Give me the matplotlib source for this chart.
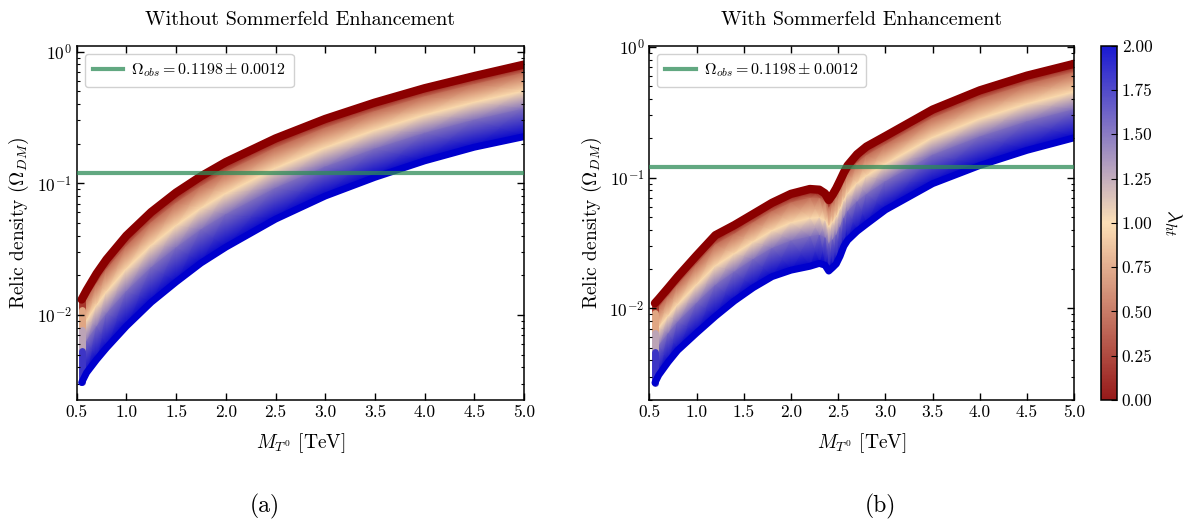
import numpy as np
import matplotlib
matplotlib.use('Agg')
import matplotlib.pyplot as plt
import matplotlib.cm as cm
from matplotlib.colors import LinearSegmentedColormap, Normalize
from matplotlib.collections import LineCollection
from matplotlib.ticker import LogLocator, NullFormatter, MultipleLocator, FormatStrFormatter

plt.rcParams.update({
    'font.family': 'cmr10',
    'mathtext.fontset': 'cm',
    'axes.formatter.use_mathtext': True,
    'axes.unicode_minus': False,
})

# ---------------- data ----------------
lam_levels = [0.0, 0.5, 1.0, 1.5, 2.0]
omega_obs = 0.1198

# (a) without Sommerfeld enhancement
mass_a = [0.55, 0.6, 0.7, 0.8, 1.0, 1.25, 1.5, 1.75, 2.0, 2.5, 3.0, 3.5, 4.0, 4.5, 5.0]
a_l00 = [0.0131, 0.0154, 0.0206, 0.0264, 0.0400, 0.0605, 0.0850, 0.113, 0.145, 0.219, 0.308, 0.410, 0.527, 0.652, 0.797]
a_l05 = [0.0110, 0.0130, 0.0172, 0.0220, 0.0331, 0.0501, 0.0704, 0.0942, 0.1212, 0.1848, 0.2620, 0.3505, 0.4525, 0.5610, 0.686]
a_l10 = [0.00766, 0.00905, 0.01181, 0.01492, 0.02228, 0.03376, 0.04762, 0.0645, 0.08356, 0.1299, 0.1860, 0.2525, 0.3290, 0.4110, 0.5010]
a_l15 = [0.00532, 0.00631, 0.00811, 0.01014, 0.0150, 0.02277, 0.03221, 0.04416, 0.05761, 0.09134, 0.1325, 0.1815, 0.2390, 0.3010, 0.3660]
a_l20 = [0.00307, 0.00365, 0.00458, 0.00563, 0.00822, 0.0125, 0.0178, 0.0248, 0.0327, 0.0534, 0.0800, 0.1110, 0.1480, 0.1880, 0.226]

# (b) with Sommerfeld enhancement
mass_b = [0.56, 0.6, 0.7, 0.8, 1.0, 1.2, 1.4, 1.6, 1.8, 2.0, 2.2, 2.3, 2.36, 2.40, 2.44, 2.48, 2.52,
          2.56, 2.6, 2.7, 2.8, 3.0, 3.5, 4.0, 4.5, 5.0]
b_l00 = [0.01095, 0.01179, 0.01433, 0.01748, 0.02535, 0.0363, 0.0433, 0.0527, 0.0642, 0.0752, 0.0819, 0.0809,
         0.0758, 0.0675, 0.0740, 0.0830, 0.0951, 0.1095, 0.124, 0.151, 0.173, 0.208, 0.332, 0.466, 0.604, 0.744]
b_l05 = [0.00926, 0.01004, 0.01225, 0.01496, 0.02153, 0.03058, 0.03688, 0.0451, 0.0549, 0.0640, 0.0696, 0.0692,
         0.0651, 0.0581, 0.0634, 0.0708, 0.0810, 0.0937, 0.1058, 0.1283, 0.1469, 0.1780, 0.2840, 0.3975, 0.5160, 0.6363]
b_l10 = [0.00643, 0.00709, 0.00873, 0.01067, 0.0151, 0.0211, 0.0261, 0.0322, 0.0392, 0.0451, 0.0488, 0.0494,
         0.0469, 0.0419, 0.0454, 0.0500, 0.0573, 0.0668, 0.0751, 0.0902, 0.1030, 0.1269, 0.2025, 0.2815, 0.3660, 0.4532]
b_l15 = [0.00460, 0.00514, 0.00639, 0.00781, 0.01088, 0.01497, 0.01892, 0.02358, 0.02868, 0.03267, 0.03523, 0.03619,
         0.03460, 0.03106, 0.03338, 0.03634, 0.04164, 0.04896, 0.05477, 0.06513, 0.07424, 0.09292, 0.1480, 0.2045, 0.2670, 0.3316]
b_l20 = [0.0027, 0.00309, 0.00389, 0.00477, 0.00648, 0.0087, 0.0114, 0.0144, 0.0175, 0.0196, 0.0210, 0.0221,
         0.0214, 0.0193, 0.0205, 0.0219, 0.0251, 0.0299, 0.0332, 0.0389, 0.0442, 0.0567, 0.0900, 0.1240, 0.162, 0.202]

cbar_ticks = [0.00, 0.25, 0.50, 0.75, 1.00, 1.25, 1.50, 1.75, 2.00]

# ---------------- figure ----------------
W, H = 1194, 519
fig = plt.figure(figsize=(W / 100, H / 100), dpi=100)

cmap = LinearSegmentedColormap.from_list('lam', ['#8b0000', '#fcdcae', '#0000cd'])
norm = Normalize(0, 2)


def px_axes(x0, y0, x1, y1):
    return fig.add_axes([x0 / W, 1 - y1 / H, (x1 - x0) / W, (y1 - y0) / H])


def draw(ax, mass, curves, ylim, title):
    lam = np.array(lam_levels)
    mass = np.array(mass)
    Y = np.array(curves)
    X = np.tile(mass, (len(lam), 1))
    C = np.repeat(lam[:, None], len(mass), axis=1)
    ax.set_yscale('log')
    ax.pcolormesh(X, Y, C, shading='gouraud', cmap=cmap, norm=norm, zorder=1)
    lw = 6
    ax.plot(mass, Y[0], color=cmap(norm(lam[0])), lw=lw, solid_capstyle='round',
            solid_joinstyle='round', zorder=2)
    ax.plot(mass, Y[-1], color=cmap(norm(lam[-1])), lw=lw - 1, solid_capstyle='round',
            solid_joinstyle='round', zorder=2)
    segs = [[(mass[0], Y[i, 0]), (mass[0], Y[i + 1, 0])] for i in range(len(lam) - 1)]
    cols = [cmap(norm(0.5 * (lam[i] + lam[i + 1]))) for i in range(len(lam) - 1)]
    ax.add_collection(LineCollection(segs, colors=cols, linewidths=lw - 1, capstyle='round', zorder=1.5))
    ax.axhline(omega_obs, color='seagreen', lw=3, alpha=0.75, zorder=3,
               label=r'$\Omega_{obs} = 0.1198 \pm 0.0012$')
    ax.set_xlim(0.5, 5.0)
    ax.set_ylim(*ylim)
    ax.xaxis.set_major_locator(MultipleLocator(0.5))
    ax.xaxis.set_major_formatter(FormatStrFormatter('%.1f'))
    ax.yaxis.set_major_locator(LogLocator(base=10, numticks=10))
    ax.yaxis.set_minor_locator(LogLocator(base=10, subs=np.arange(2, 10), numticks=50))
    ax.yaxis.set_minor_formatter(NullFormatter())
    ax.tick_params(which='both', direction='in', top=True, right=True, labelsize=12.5)
    ax.tick_params(which='major', length=5, width=1)
    ax.tick_params(which='minor', length=2.5, width=0.8)
    for s in ax.spines.values():
        s.set_linewidth(1.1)
    ax.set_xlabel(r'$M_{T^0}$ [TeV]', fontsize=14, labelpad=8)
    ax.set_ylabel(r'Relic density ($\Omega_{DM}$)', fontsize=14, labelpad=4)
    ax.set_title(title, fontsize=14.5, pad=15)
    ax.legend(loc='upper left', fontsize=11.5, handlelength=1.9, handletextpad=0.5,
              borderpad=0.5, framealpha=0.9, edgecolor='#cccccc')


ax1 = px_axes(76.7, 45.7, 524, 400)
draw(ax1, mass_a, [a_l00, a_l05, a_l10, a_l15, a_l20], (0.00226, 1.109),
     'Without Sommerfeld Enhancement')

ax2 = px_axes(649.3, 45.7, 1074.3, 400)
draw(ax2, mass_b, [b_l00, b_l05, b_l10, b_l15, b_l20], (0.00199, 1.023),
     'With Sommerfeld Enhancement')

cax = px_axes(1100.5, 45.7, 1117, 400)
sm = cm.ScalarMappable(norm=norm, cmap=cmap)
cb = fig.colorbar(sm, cax=cax, alpha=0.9, ticks=cbar_ticks, format='%.2f')
cb.ax.tick_params(direction='in', labelsize=12.5, length=4)
cb.outline.set_linewidth(1.1)
cb.set_label(r'$\lambda_{ht}$', rotation=270, labelpad=22, fontsize=15)

fig.text(265 / W, 1 - 506 / H, '(a)', ha='center', va='center', fontsize=17)
fig.text(880 / W, 1 - 506 / H, '(b)', ha='center', va='center', fontsize=17)

fig.savefig('out.png', dpi=100)
